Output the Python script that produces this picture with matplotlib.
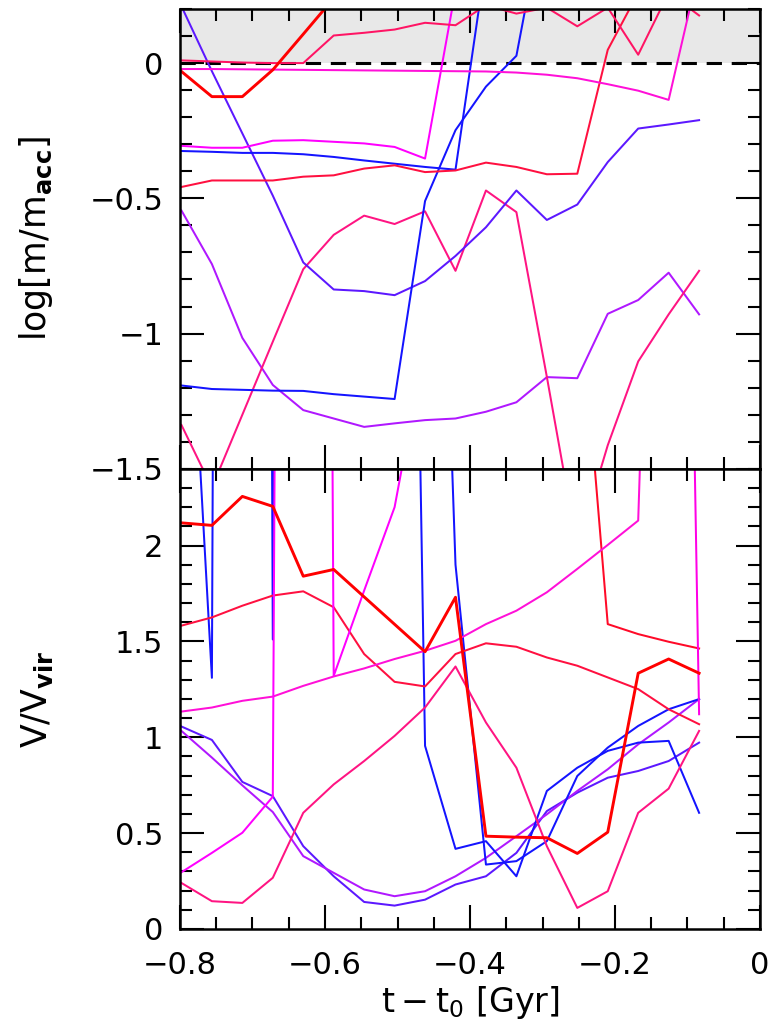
import numpy as np
import matplotlib
matplotlib.use("Agg")
import matplotlib.pyplot as plt
from matplotlib.ticker import MultipleLocator, FuncFormatter

plt.rcParams['font.family'] = ['DejaVu Sans']
plt.rcParams['mathtext.fontset'] = 'dejavusans'

nan = np.nan

# time of each snapshot  [Gyr]
t = [-0.798, -0.756, -0.714, -0.672, -0.630, -0.588, -0.546, -0.504, -0.462,
     -0.420, -0.378, -0.336, -0.294, -0.252, -0.210, -0.168, -0.126, -0.084]

# ---------------- top panel: log(m / m_acc) ----------------
m_red_thick = [-0.031, -0.124, -0.124, -0.025, 0.107, 0.24]
m_pinkred = [0.010, 0.006, 0.002, 0.0, 0.0, 0.102, 0.112, 0.124, 0.149, 0.140,
             0.214, 0.183, 0.205, 0.136, 0.205, 0.031, 0.26, 0.176]
m_mag_flat = [-0.022, -0.022, -0.023, -0.024, -0.025, -0.026, -0.027, -0.028, -0.029,
              -0.030, -0.031, -0.035, -0.043, -0.056, -0.078, -0.102, -0.136, 0.35]
m_mag_jump = [-0.306, -0.313, -0.313, -0.287, -0.285, -0.291, -0.297, -0.310, -0.353, 0.27]
m_blue_a = [-0.325, -0.328, -0.332, -0.332, -0.337, -0.347, -0.360, -0.372, -0.384,
            -0.394, 0.38]
m_blue_b = [-1.192, -1.205, -1.208, -1.211, -1.212, -1.224, -1.233, -1.242, -0.510,
            -0.248, -0.087, 0.027, 0.62]
m_violet = [0.21, -0.03, -0.26, -0.49, -0.737, -0.837, -0.843, -0.858, -0.806, -0.713,
            -0.607, -0.471, -0.580, -0.523, -0.366, -0.242, -0.227, -0.211]
m_red = [-0.458, -0.434, -0.434, -0.434, -0.420, -0.415, -0.390, -0.378, -0.403, -0.397,
         -0.368, -0.384, -0.411, -0.409, 0.049, 0.26]
m_pink = [-1.338, -1.57, -1.30, -1.03, -0.762, -0.635, -0.564, -0.595, -0.548, -0.768,
          -0.471, -0.551, -1.16, -1.79, -1.413, -1.103, -0.929, -0.768]
m_purple = [-0.545, -0.743, -1.016, -1.19, -1.283, -1.314, -1.345, -1.332, -1.32, -1.314,
            -1.289, -1.254, -1.161, -1.165, -0.927, -0.876, -0.775, -0.929]

# ---------------- bottom panel: V / V_vir ----------------
v_red_thick = [2.118, 2.105, 2.256, 2.204, 1.840, 1.875, 1.732, 1.589, 1.446, 1.730,
               0.484, 0.479, 0.476, 0.394, 0.505, 1.334, 1.408, 1.334]
v_red = [1.582, 1.625, 1.686, 1.739, 1.761, 1.678, 1.434, 1.289, 1.265, 1.434,
         1.490, 1.472, 1.416, 1.373, 1.312, 1.251, 1.146, 1.068]
v_red_late = [nan] * 13 + [3.5, 1.59, 1.538, 1.498, 1.463]
v_pink = [0.240, 0.145, 0.136, 0.267, 0.606, 0.754, 0.876, 1.007, 1.155, 1.369,
          1.077, 0.841, 0.432, 0.110, 0.197, 0.606, 0.732, 1.033]
v_mag_rise = [1.134, 1.155, 1.190, 1.212, 1.268, 1.317, 1.359, 1.408, 1.451, 1.503,
              1.590, 1.660, 1.756, 1.878, 2.003, 2.130, 7.1]
v_mag_early = [0.296, 0.397, 0.502, 0.690, 30.0]
v_mag_mid = [nan, nan, nan, nan, 30.0, 1.320, 1.765, 2.200, 3.05]
v_mag_end = [nan] * 16 + [10.2, 1.12]
v_blue_a = [4.16, 1.31, 40.0, 1.51, 40.0, 40.0, 40.0, 10.4, 0.955, 0.418,
            0.458, 0.275, 0.720, 0.841, 0.929, 0.972, 0.981, 0.606]
v_blue_b = [nan] * 8 + [6.5, 1.90, 0.336, 0.354, 0.458, 0.798, 0.946, 1.059, 1.146, 1.199]
v_violet = [1.056, 0.986, 0.767, 0.693, 0.432, 0.275, 0.141, 0.122, 0.153, 0.232,
            0.275, 0.397, 0.615, 0.711, 0.789, 0.824, 0.876, 0.972]
v_purple = [1.033, 0.894, 0.749, 0.610, 0.380, 0.293, 0.206, 0.171, 0.197, 0.275,
            0.371, 0.484, 0.598, 0.720, 0.833, 0.963, 1.077, 1.199]

C_RED = '#ff0000'
C_RED2 = '#ff1040'
C_RED3 = '#ff0a28'
C_PINKRED = '#ff1464'
C_PINK = '#ff1482'
C_MAG1 = '#ff10d8'
C_MAG2 = '#ff00ff'
C_MAG3 = '#ff00e6'
C_PURPLE = '#b018ff'
C_VIOLET = '#5c18ff'
C_BLUE = '#1414ff'

top_series = [
    (m_purple, C_PURPLE, 1.45), (m_pink, C_PINK, 1.45), (m_violet, C_VIOLET, 1.45),
    (m_blue_b, C_BLUE, 1.45), (m_blue_a, C_BLUE, 1.45), (m_red, C_RED2, 1.45),
    (m_mag_jump, C_MAG2, 1.45), (m_mag_flat, C_MAG1, 1.45), (m_pinkred, C_PINKRED, 1.45),
    (m_red_thick, C_RED, 2.1),
]
bot_series = [
    (v_violet, C_VIOLET, 1.45), (v_purple, C_PURPLE, 1.45), (v_blue_a, C_BLUE, 1.45),
    (v_blue_b, C_BLUE, 1.45), (v_pink, C_PINK, 1.45), (v_red, C_RED2, 1.45),
    (v_red_late, C_RED3, 1.45), (v_mag_rise, C_MAG1, 1.45), (v_mag_early, C_MAG2, 1.45),
    (v_mag_mid, C_MAG2, 1.45), (v_mag_end, C_MAG3, 1.45), (v_red_thick, C_RED, 2.1),
]

fig = plt.figure(figsize=(7.74, 10.34), dpi=100)
left, width = 180 / 774, 580 / 774
ax1 = fig.add_axes([left, 0.54661, width, 0.99130 - 0.54661])
ax2 = fig.add_axes([left, 0.10155, width, 0.54661 - 0.10155])


def fmt(v, pos):
    s = '%g' % round(v, 3)
    if s in ('-0', '0.0'):
        s = '0'
    return s.replace('-', '\u2212')


for ax in (ax1, ax2):
    ax.set_xlim(-0.8, 0)
    ax.xaxis.set_major_locator(MultipleLocator(0.2))
    ax.xaxis.set_minor_locator(MultipleLocator(0.05))
    ax.yaxis.set_major_locator(MultipleLocator(0.5))
    ax.yaxis.set_minor_locator(MultipleLocator(0.1))
    ax.tick_params(which='both', direction='in', top=True, right=True, width=1.5)
    ax.tick_params(which='major', length=17)
    ax.tick_params(which='minor', length=8.8)
    ax.tick_params(axis='x', labelsize=22, pad=16)
    ax.tick_params(axis='y', labelsize=22, pad=12)
    ax.xaxis.set_major_formatter(FuncFormatter(fmt))
    ax.yaxis.set_major_formatter(FuncFormatter(fmt))
    for sp in ax.spines.values():
        sp.set_linewidth(1.8)

ax1.set_ylim(-1.5, 0.2)
ax2.set_ylim(0, 2.4)
ax1.tick_params(axis='x', labelbottom=False)

ax1.axhspan(0, 0.2, color='#e8e8e8', zorder=0, lw=0)
ax1.axhline(0, color='black', lw=2.2, ls=(0, (5.0, 3.2)), zorder=1)

for vals, c, lw in top_series:
    ax1.plot(t[:len(vals)], vals, color=c, lw=lw, zorder=2)
for vals, c, lw in bot_series:
    ax2.plot(t[:len(vals)], vals, color=c, lw=lw, zorder=2)

ax1.set_ylabel(r'$\mathrm{log[m/m}_{\mathbf{acc}}\mathrm{]}$', fontsize=25)
ax2.set_ylabel(r'$\mathrm{V/V}_{\mathbf{vir}}$', fontsize=25)
ax1.yaxis.set_label_coords(-0.215, 0.5)
ax2.yaxis.set_label_coords(-0.215, 0.5)
ax2.set_xlabel(r'$\mathrm{t-t_0\ [Gyr]}$', fontsize=24)
ax2.xaxis.set_label_coords(0.5, -0.12)

fig.savefig('out.png', dpi=100)
